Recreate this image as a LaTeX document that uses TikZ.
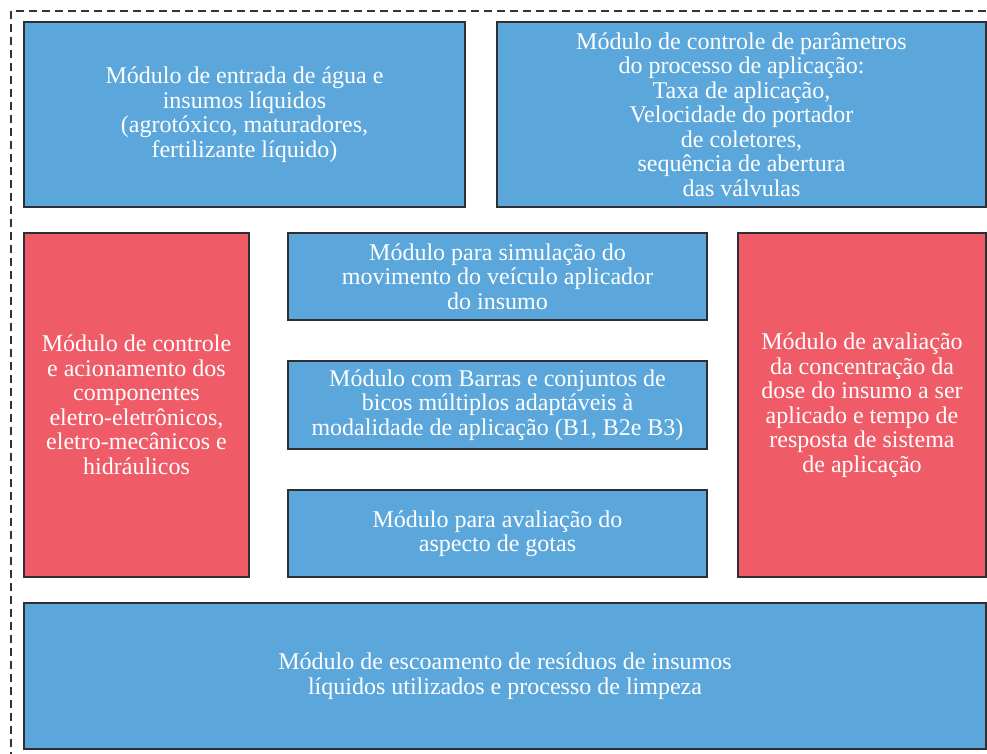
\documentclass[tikz,border=0pt]{standalone}
\usepackage{fontspec}
\setmainfont{Liberation Serif}
\definecolor{modblue}{HTML}{5BA7DC}
\definecolor{modred}{HTML}{EF5B67}
\definecolor{modedge}{HTML}{2E2E33}
\begin{document}
\begin{tikzpicture}[x=1pt,y=-1pt,
  modbox/.style={draw=modedge,line width=1.6pt,inner sep=0pt},
  bluebox/.style={modbox,fill=modblue},
  redbox/.style={modbox,fill=modred},
  modtext/.style={text=white,align=center,font=\fontsize{24}{24.5}\selectfont,inner sep=0pt}]
\useasboundingbox (0,0) rectangle (987,754);
\draw[line width=1.3pt,dash pattern=on 8pt off 5pt,color=black!80] (11,760) -- (11,11) -- (995,11);
\newcommand{\modbox}[6]{%
  \node[#1,minimum width=#4-#2,minimum height=#5-#3] (#6) at ({(#2+#4)/2},{(#3+#5)/2}) {};}
\modbox{bluebox}{24}{22}{465}{207}{entrada}
\node[modtext] (tentrada) at (entrada) {Módulo de entrada de água e\\insumos líquidos\\(agrotóxico, maturadores,\\fertilizante líquido)};
\modbox{bluebox}{497}{22}{986}{207}{controle}
\node[modtext] (tcontrole) at (controle) {Módulo de controle de parâmetros\\do processo de aplicação:\\Taxa de aplicação,\\Velocidade do portador\\de coletores,\\sequência de abertura\\das válvulas};
\modbox{redbox}{24}{233}{249}{577}{acion}
\node[modtext] (tacion) at (acion) {Módulo de controle\\e acionamento dos\\componentes\\eletro-eletrônicos,\\eletro-mecânicos e\\hidráulicos};
\modbox{bluebox}{288}{233}{707}{320}{simul}
\node[modtext] (tsimul) at (simul) {Módulo para simulação do\\movimento do veículo aplicador\\do insumo};
\modbox{bluebox}{288}{361}{707}{449}{barras}
\node[modtext] (tbarras) at (barras) {Módulo com Barras e conjuntos de\\bicos múltiplos adaptáveis à\\modalidade de aplicação (B1, B2e B3)};
\modbox{bluebox}{288}{490}{707}{577}{gotas}
\node[modtext] (tgotas) at (gotas) {Módulo para avaliação do\\aspecto de gotas};
\modbox{redbox}{738}{233}{986}{577}{avalia}
\node[modtext] (tavalia) at (avalia) {Módulo de avaliação\\da concentração da\\dose do insumo a ser\\aplicado e tempo de\\resposta de sistema\\de aplicação};
\modbox{bluebox}{24}{603}{986}{749}{escoa}
\node[modtext] (tescoa) at (escoa) {Módulo de escoamento de resíduos de insumos\\líquidos utilizados e processo de limpeza};
\end{tikzpicture}
\end{document}
